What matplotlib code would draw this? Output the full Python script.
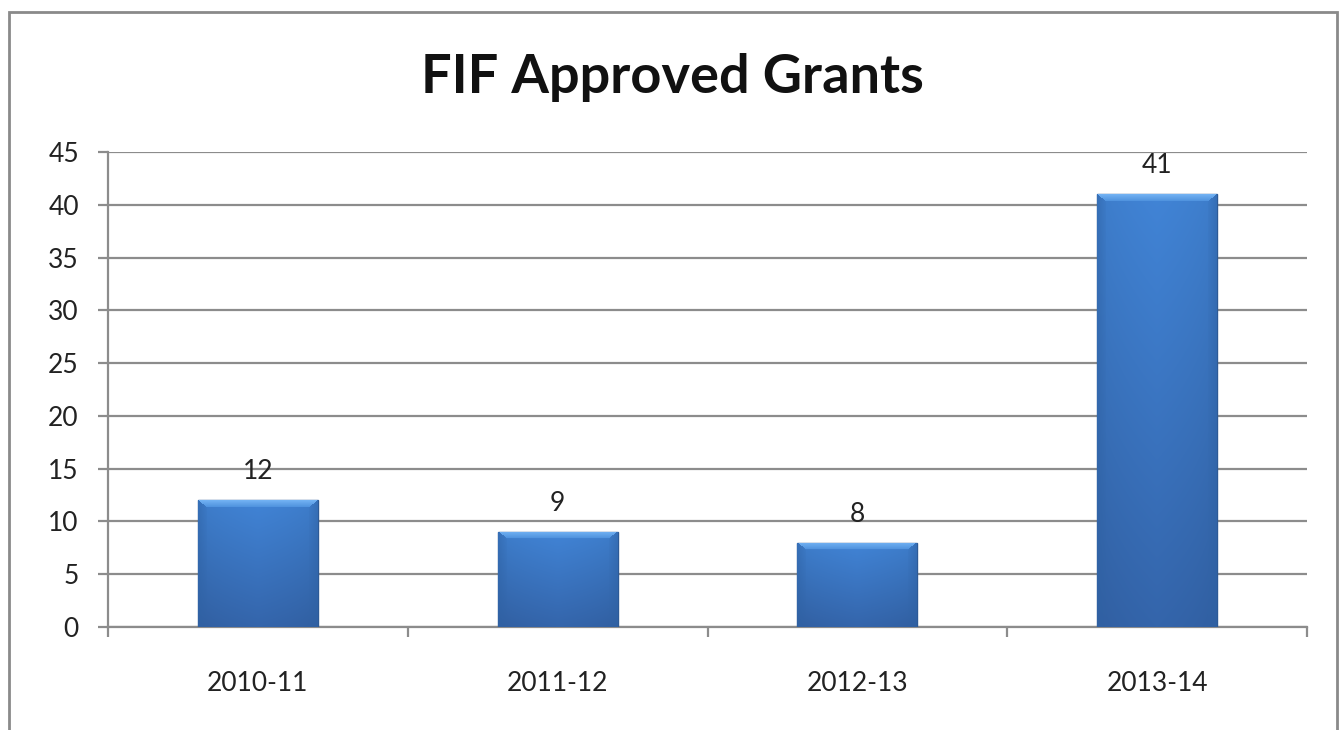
import matplotlib.pyplot as plt
import numpy as np
from matplotlib.patches import Rectangle
from matplotlib.colors import to_rgb

# data
years = ['2010-11', '2011-12', '2012-13', '2013-14']
grants = [12, 9, 8, 41]

plt.rcParams['font.family'] = ['Lato', 'DejaVu Sans']

fig = plt.figure(figsize=(13.44, 7.30), dpi=100)
ax = fig.add_axes([108/1344, 1-627/730, (1307-108)/1344, (627-152)/730])

# outer chart frame
fig.patches.append(Rectangle((9/1344, -0.05), (1337-9)/1344, 1.05-12/730,
                             transform=fig.transFigure, fill=False,
                             edgecolor='#8a8a8a', linewidth=2, zorder=0))

ax.set_xlim(-0.5, len(years) - 0.5)
ax.set_ylim(0, 45)

x = np.arange(len(years))
bars = ax.bar(x, grants, width=0.4, color='#3a74c0', edgecolor='#2d5a96',
              linewidth=1, zorder=3)

# bevelled shading, built per bar in pixel units
face_top = np.array(to_rgb('#4184d6'))
face_bot = np.array(to_rgb('#3465ab'))
bev_top_a = np.array(to_rgb('#74b4f4'))
bev_top_b = np.array(to_rgb('#4f92de'))
bev_side = np.array(to_rgb('#2f63a6'))
px_per_x = ax.bbox.width / 4.0
px_per_y = ax.bbox.height / 45.0
bev_t = 7
bev_s = 9
for b in bars:
    x0, w, h = b.get_x(), b.get_width(), b.get_height()
    W = int(round(w * px_per_x))
    H = max(int(round(h * px_per_y)), 2)
    u = np.arange(W)[None, :] + 0.5
    v = np.arange(H)[:, None] + 0.5
    dl, dr, dt = u * np.ones_like(v), (W - u) * np.ones_like(v), v * np.ones_like(u)
    t = (v / H) * np.ones_like(u)
    ds = np.minimum(dl, dr)
    img = face_top[None, None, :] * (1 - t[..., None]) + face_bot[None, None, :] * t[..., None]
    img = img * (0.92 + 0.08 * np.sqrt(ds / (W / 2)))[..., None]
    side_mask = (ds < bev_s) & (ds / bev_s < dt / bev_t)
    top_mask = (dt < bev_t) & (dt / bev_t <= ds / bev_s)
    k = (ds[side_mask] / bev_s)[:, None]
    img[side_mask] = img[side_mask] * (0.5 + 0.4 * k) + bev_side * (0.5 - 0.4 * k)
    k = (dt[top_mask] / bev_t)[:, None]
    img[top_mask] = bev_top_a * (1 - k) + bev_top_b * k
    im = ax.imshow(img, aspect='auto', extent=(x0, x0 + w, 0, h), origin='upper',
                   zorder=3.1, interpolation='bilinear')
    im.set_clip_path(b)
    ax.text(x0 + w/2, h + 1.5, str(int(h)), ha='center', va='bottom',
            fontsize=19, color='#222222', zorder=4)

ax.set_yticks(range(0, 46, 5))
ax.set_xticks(x)
ax.set_xticklabels(years)
ax.set_xticks(np.arange(-0.5, len(years)), minor=True)

ax.grid(axis='y', color='#8c8c8c', linewidth=1.6, zorder=0)
ax.set_axisbelow(True)
for s in ['top', 'right']:
    ax.spines[s].set_visible(False)
ax.spines['left'].set_color('#8c8c8c')
ax.spines['bottom'].set_color('#8c8c8c')
ax.spines['left'].set_linewidth(1.6)
ax.spines['bottom'].set_linewidth(1.6)

ax.tick_params(axis='y', length=7, width=1.6, color='#8c8c8c', labelsize=19,
               pad=14, labelcolor='#222222')
ax.tick_params(axis='x', which='major', length=0, labelsize=19, pad=32,
               labelcolor='#222222')
ax.tick_params(axis='x', which='minor', length=7, width=1.6, color='#8c8c8c')

fig.text(0.5, 1 - 78/730, 'FIF Approved Grants', ha='center', va='center',
         fontsize=39, fontweight='bold', color='#111111')

fig.savefig('out.png', dpi=100)
